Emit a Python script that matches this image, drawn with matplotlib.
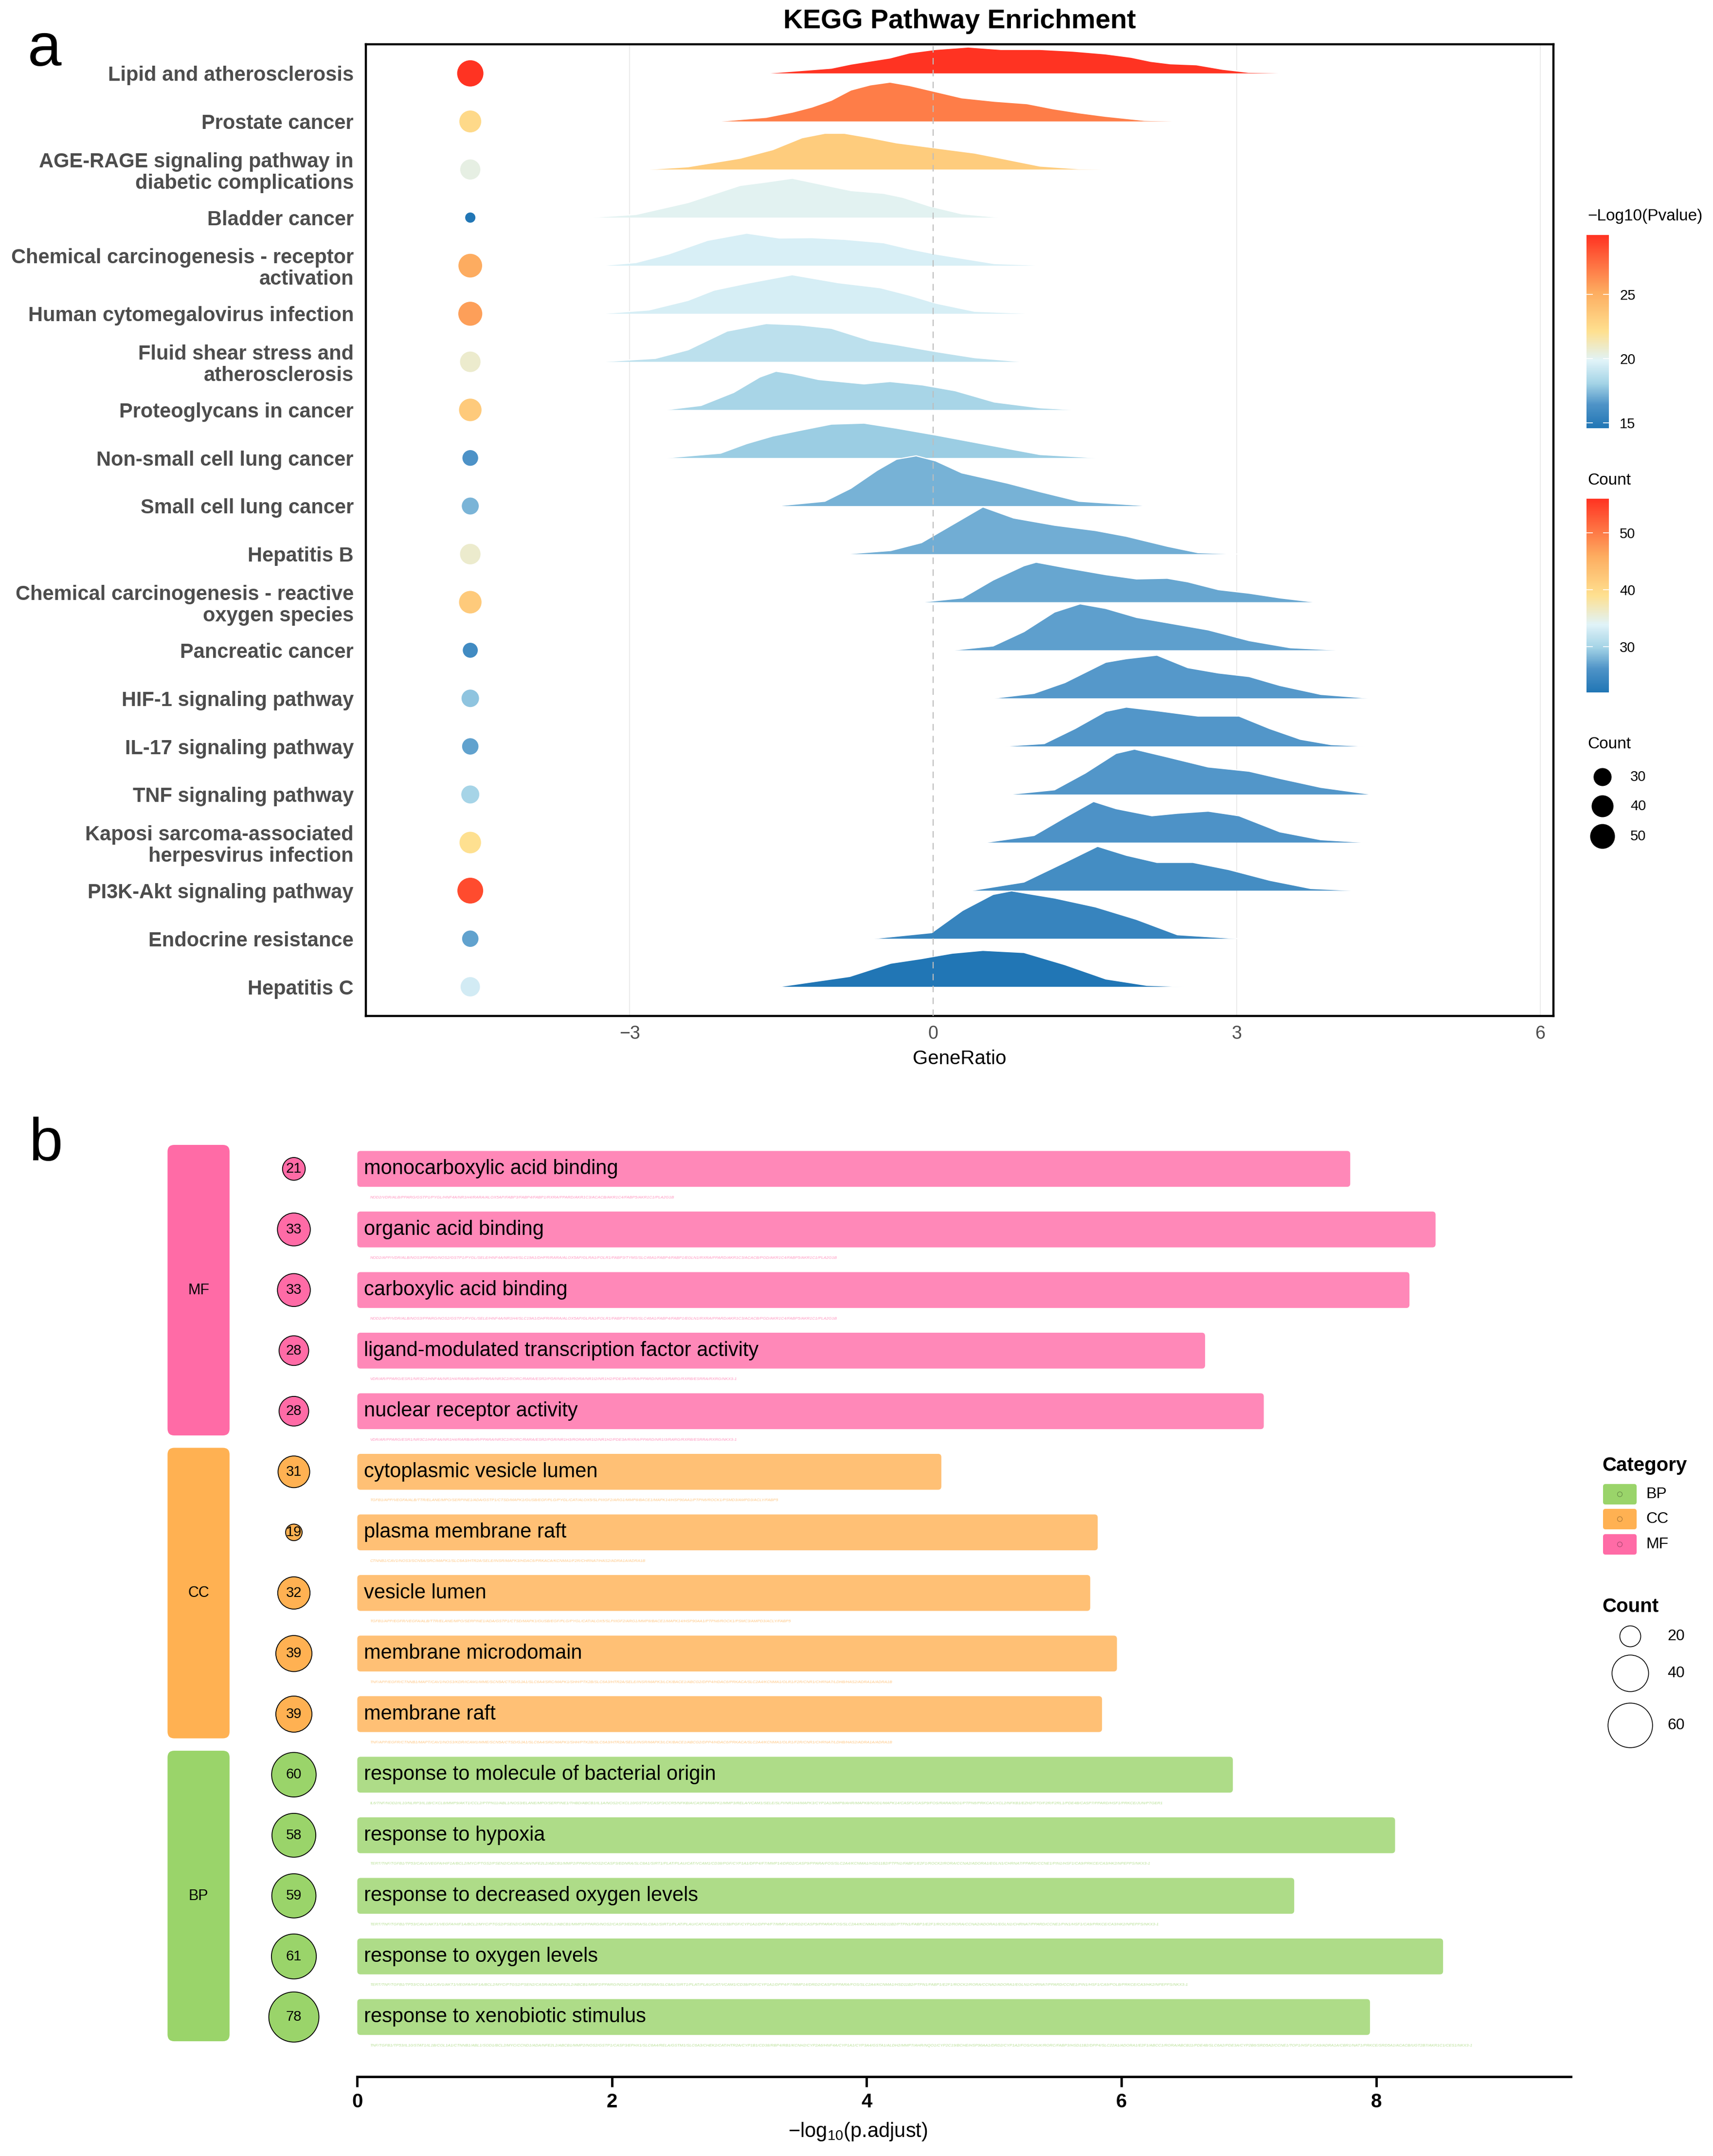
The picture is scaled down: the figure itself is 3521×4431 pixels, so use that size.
import numpy as np
import matplotlib
matplotlib.use("Agg")
import matplotlib.pyplot as plt
from matplotlib.colors import LinearSegmentedColormap, Normalize, to_rgba
from matplotlib.patches import FancyBboxPatch
from matplotlib.cm import ScalarMappable

plt.rcParams['font.family'] = ['Liberation Sans', 'DejaVu Sans']
plt.rcParams['axes.unicode_minus'] = True

# ---------------- panel a data ----------------
kegg_pathways = [
    "Lipid and atherosclerosis", "Prostate cancer",
    "AGE-RAGE signaling pathway in\ndiabetic complications", "Bladder cancer",
    "Chemical carcinogenesis - receptor\nactivation", "Human cytomegalovirus infection",
    "Fluid shear stress and\natherosclerosis", "Proteoglycans in cancer",
    "Non-small cell lung cancer", "Small cell lung cancer", "Hepatitis B",
    "Chemical carcinogenesis - reactive\noxygen species", "Pancreatic cancer",
    "HIF-1 signaling pathway", "IL-17 signaling pathway", "TNF signaling pathway",
    "Kaposi sarcoma-associated\nherpesvirus infection", "PI3K-Akt signaling pathway",
    "Endocrine resistance", "Hepatitis C",
]
kegg_neglog10_p = [29.6, 26.9, 23.3, 20.0, 19.6, 19.55, 18.8, 18.2, 17.93, 17.2,
                   17.07, 16.9, 16.73, 16.58, 16.52, 16.5, 16.4, 16.04, 15.5, 14.6]
kegg_count = [56, 40, 35, 22, 46, 47, 36, 42, 26, 28,
              36, 42, 25, 29, 27, 30, 39, 54, 27, 33]

# ridge outlines: x (GeneRatio) and height (in row units)
ridge_x = [
    [-1.662, -1.005, -0.812, -0.426, -0.233, 0.025, 0.347, 0.669, 1.055, 1.377, 1.699, 1.957, 2.150, 2.343, 2.601, 2.858, 3.116, 3.631],
    [-2.132, -1.649, -1.392, -1.198, -1.005, -0.812, -0.619, -0.426, -0.233, 0.025, 0.283, 0.605, 0.927, 1.184, 1.442, 1.699, 2.086, 2.504],
    [-2.840, -2.422, -1.907, -1.585, -1.295, -1.070, -0.876, -0.619, -0.361, 0.025, 0.411, 0.669, 1.055, 1.442, 1.796],
    [-3.400, -2.937, -2.422, -1.907, -1.649, -1.392, -1.134, -0.812, -0.490, -0.297, -0.039, 0.283, 0.669],
    [-3.291, -2.937, -2.615, -2.229, -1.842, -1.520, -1.198, -0.876, -0.490, -0.233, 0.025, 0.605, 1.152],
    [-3.291, -2.808, -2.422, -2.164, -1.842, -1.392, -0.941, -0.522, -0.233, 0.025, 0.411, 1.023],
    [-3.291, -2.744, -2.422, -2.035, -1.649, -1.327, -1.005, -0.812, -0.619, -0.361, 0.025, 0.411, 0.894],
    [-2.647, -2.293, -1.971, -1.713, -1.553, -1.392, -1.134, -0.683, -0.426, -0.104, 0.218, 0.605, 1.055, 1.409],
    [-2.647, -2.100, -1.842, -1.585, -1.327, -1.005, -0.683, -0.361, 0.025, 0.476, 1.055, 1.635],
    [-1.553, -1.070, -0.812, -0.555, -0.361, -0.168, 0.025, 0.283, 0.733, 1.055, 1.442, 2.150],
    [-0.874, -0.418, -0.115, 0.189, 0.492, 0.796, 1.200, 1.605, 1.909, 2.314, 2.617, 3.022],
    [-0.115, 0.290, 0.593, 0.897, 1.018, 1.302, 1.706, 2.010, 2.313, 2.516, 2.819, 3.123, 3.426, 3.780],
    [0.189, 0.593, 0.897, 1.200, 1.453, 1.706, 2.010, 2.313, 2.718, 3.123, 3.528, 4.033],
    [0.593, 0.998, 1.302, 1.706, 1.909, 2.212, 2.516, 2.819, 3.123, 3.426, 3.831, 4.317],
    [0.674, 1.099, 1.403, 1.706, 1.909, 2.212, 2.617, 3.022, 3.325, 3.629, 3.932, 4.317],
    [0.745, 1.200, 1.504, 1.808, 1.990, 2.314, 2.718, 3.123, 3.426, 3.831, 4.337],
    [0.512, 0.998, 1.302, 1.585, 1.807, 2.162, 2.414, 2.718, 3.022, 3.426, 3.831, 4.286],
    [0.371, 0.897, 1.302, 1.625, 1.909, 2.212, 2.566, 2.921, 3.325, 3.730, 4.185],
    [-0.601, -0.014, 0.290, 0.593, 0.775, 1.200, 1.605, 2.010, 2.414, 3.022],
    [-1.531, -0.823, -0.418, -0.115, 0.189, 0.492, 0.897, 1.302, 1.706, 2.111, 2.516],
]
ridge_h = [
    [0, 0.107, 0.192, 0.320, 0.426, 0.497, 0.547, 0.497, 0.497, 0.462, 0.405, 0.334, 0.249, 0.199, 0.178, 0.085, 0.021, 0],
    [0, 0.085, 0.192, 0.298, 0.440, 0.653, 0.760, 0.817, 0.746, 0.618, 0.490, 0.419, 0.369, 0.263, 0.178, 0.107, 0.021, 0],
    [0, 0.057, 0.234, 0.412, 0.660, 0.753, 0.753, 0.660, 0.554, 0.447, 0.341, 0.234, 0.071, 0.014, 0],
    [0, 0.064, 0.312, 0.668, 0.739, 0.817, 0.703, 0.561, 0.504, 0.419, 0.241, 0.078, 0],
    [0, 0.064, 0.241, 0.526, 0.675, 0.575, 0.582, 0.547, 0.476, 0.348, 0.241, 0.043, 0],
    [0, 0.078, 0.277, 0.490, 0.632, 0.810, 0.646, 0.540, 0.384, 0.220, 0.050, 0],
    [0, 0.071, 0.249, 0.639, 0.795, 0.767, 0.696, 0.568, 0.440, 0.355, 0.213, 0.085, 0],
    [0, 0.092, 0.362, 0.682, 0.803, 0.753, 0.632, 0.540, 0.589, 0.518, 0.398, 0.163, 0.043, 0],
    [0, 0.099, 0.298, 0.455, 0.568, 0.703, 0.724, 0.618, 0.476, 0.298, 0.071, 0],
    [0, 0.099, 0.369, 0.739, 0.973, 1.044, 0.938, 0.689, 0.476, 0.298, 0.099, 0],
    [0, 0.074, 0.238, 0.609, 0.980, 0.750, 0.600, 0.490, 0.370, 0.163, 0.030, 0],
    [0, 0.089, 0.460, 0.757, 0.831, 0.720, 0.572, 0.483, 0.497, 0.423, 0.260, 0.186, 0.089, 0],
    [0, 0.089, 0.386, 0.794, 0.965, 0.869, 0.683, 0.572, 0.423, 0.200, 0.052, 0],
    [0, 0.104, 0.327, 0.750, 0.824, 0.898, 0.638, 0.527, 0.453, 0.267, 0.082, 0],
    [0, 0.059, 0.371, 0.728, 0.817, 0.742, 0.631, 0.631, 0.371, 0.148, 0.037, 0],
    [0, 0.097, 0.445, 0.854, 0.943, 0.780, 0.572, 0.483, 0.334, 0.148, 0],
    [0, 0.148, 0.520, 0.854, 0.705, 0.557, 0.609, 0.653, 0.557, 0.223, 0.059, 0],
    [0, 0.178, 0.587, 0.921, 0.735, 0.587, 0.587, 0.438, 0.215, 0.045, 0],
    [0, 0.126, 0.586, 0.921, 0.995, 0.846, 0.661, 0.401, 0.082, 0],
    [0, 0.215, 0.490, 0.586, 0.698, 0.757, 0.713, 0.460, 0.163, 0.030, 0],
]
kegg_xticks = [-3, 0, 3, 6]
pval_ticks = [15, 20, 25]
count_ticks = [30, 40, 50]

# ---------------- panel b data ----------------
go_terms = [
    "monocarboxylic acid binding", "organic acid binding", "carboxylic acid binding",
    "ligand-modulated transcription factor activity", "nuclear receptor activity",
    "cytoplasmic vesicle lumen", "plasma membrane raft", "vesicle lumen",
    "membrane microdomain", "membrane raft",
    "response to molecule of bacterial origin", "response to hypoxia",
    "response to decreased oxygen levels", "response to oxygen levels",
    "response to xenobiotic stimulus",
]
go_category = ["MF"] * 5 + ["CC"] * 5 + ["BP"] * 5
go_neglog10_padj = [7.797, 8.467, 8.262, 6.657, 7.118,
                    4.586, 5.814, 5.755, 5.965, 5.848,
                    6.875, 8.149, 7.357, 8.526, 7.952]
go_count = [21, 33, 33, 28, 28, 31, 19, 32, 39, 39, 60, 58, 59, 61, 78]
_mf_org = "NOD2/APP/VDR/ALB/NOS3/PPARG/NOS2/GSTP1/PYGL/SELE/HNF4A/NR1H4/SLC19A1/DHFR/RARA/ALOX5AP/GLRA1/FOLR1/FABP3/TYMS/SLC46A1/FABP4/FABP1/EGLN1/RXRA/PPARD/AKR1C3/ACACB/PGD/AKR1C4/FABP5/AKR1C1/PLA2G1B"
_mf_nr = "VDR/AR/PPARG/ESR1/NR3C1/HNF4A/NR1H4/RARB/AHR/PPARA/NR3C2/RORC/RARA/ESR2/PGR/NR1H3/RORA/NR1I2/NR1H2/PDE3A/RXRA/PPARD/NR1I3/RARG/RXRB/ESRRA/RXRG/NKX3-1"
_cc_raft = "TNF/APP/EGFR/CTNNB1/MAPT/CAV1/NOS3/KDR/ICAM1/MME/SCN5A/CTSD/GJA1/SLC6A4/SRC/MAPK1/SHH/PTK2B/SLC6A3/HTR2A/SELE/INSR/MAPK3/LCK/BACE1/ABCG2/DPP4/HDAC6/PRKACA/SLC2A4/KCNMA1/OLR1/F2R/CNR1/CHRNA7/LDHB/HAS2/ADRA1A/ADRA1B"
go_genes = [
    "NOD2/VDR/ALB/PPARG/GSTP1/PYGL/HNF4A/NR1H4/RARA/ALOX5AP/FABP3/FABP4/FABP1/RXRA/PPARD/AKR1C3/ACACB/AKR1C4/FABP5/AKR1C1/PLA2G1B",
    _mf_org, _mf_org, _mf_nr, _mf_nr,
    "TGFB1/APP/VEGFA/ALB/TTR/ELANE/MPO/SERPINE1/ADA/GSTP1/CTSD/MAPK1/GUSB/EGF/PLG/PYGL/CAT/ALOX5/SLPI/IGF2/ARG1/MMP8/BACE1/MAPK14/HSP90AA1/PTPN6/ROCK1/PSMD3/AMPD3/ACLY/FABP5",
    "CTNNB1/CAV1/NOS3/SCN5A/SRC/MAPK1/SLC6A3/HTR2A/SELE/INSR/MAPK3/HDAC6/PRKACA/KCNMA1/F2R/CHRNA7/HAS2/ADRA1A/ADRA1B",
    "TGFB1/APP/EGFR/VEGFA/ALB/TTR/ELANE/MPO/SERPINE1/ADA/GSTP1/CTSD/MAPK1/GUSB/EGF/PLG/PYGL/CAT/ALOX5/SLPI/IGF2/ARG1/MMP8/BACE1/MAPK14/HSP90AA1/PTPN6/ROCK1/PSMC3/AMPD3/ACLY/FABP5",
    _cc_raft, _cc_raft,
    "IL6/TNF/NOD2/IL10/NLRP3/IL1B/CXCL8/MMP9/AKT1/CCL2/PTPN11/ABL1/NOS3/ELANE/MPO/SERPINE1/THBD/ABCB1/IL1A/NOS2/CXCL10/GSTP1/CASP3/CCR5/NFKBIA/CASP8/MAPK1/MMP3/RELA/VCAM1/SELE/SLPI/NR1H4/MAPK3/CYP1A1/MMP8/AHR/MAPK8/NOD1/MAPK14/CASP1/CASP9/FOS/RARA/IDO1/PTPN6/PRKCA/CXCL2/NFKB1/EZH2/FTO/F2R/F2RL1/PDE4B/CASP7/PPARD/HSF1/PRKCE/JUN/PTGER1",
    "TERT/TNF/TGFB1/TP53/CAV1/VEGFA/HIF1A/BCL2/MYC/PTGS2/PSEN2/CASR/ACAN/NFE2L2/ABCB1/MMP2/PPARG/NOS2/CASP3/EDNRA/SLC8A1/SIRT1/PLAT/PLAU/CAT/VCAM1/CD38/PGF/CYP1A1/DPP4/F7/MMP14/DRD2/CASP9/PPARA/FOS/SLC2A4/KCNMA1/HSD11B2/PTPN1/FABP1/E2F1/ROCK2/RORA/CCNA2/ADORA1/EGLN1/CHRNA7/PPARD/CCNE1/PIN1/HSF1/CA9/PRKCE/CA3/HK2/NPEPPS/NKX3-1",
    "TERT/TNF/TGFB1/TP53/CAV1/AKT1/VEGFA/HIF1A/BCL2/MYC/PTGS2/PSEN2/CASR/ADA/NFE2L2/ABCB1/MMP2/PPARG/NOS2/CASP3/EDNRA/SLC8A1/SIRT1/PLAT/PLAU/CAT/VCAM1/CD38/PGF/CYP1A1/DPP4/F7/MMP14/DRD2/CASP9/PPARA/FOS/SLC2A4/KCNMA1/HSD11B2/PTPN1/FABP1/E2F1/ROCK2/RORA/CCNA2/ADORA1/EGLN1/CHRNA7/PPARD/CCNE1/PIN1/HSF1/CA9/PRKCE/CA3/HK2/NPEPPS/NKX3-1",
    "TERT/TNF/TGFB1/TP53/COL1A1/CAV1/AKT1/VEGFA/HIF1A/BCL2/MYC/PTGS2/PSEN2/CASR/ADA/NFE2L2/ABCB1/MMP2/PPARG/NOS2/CASP3/EDNRA/SLC8A1/SIRT1/PLAT/PLAU/CAT/VCAM1/CD38/PGF/CYP1A1/DPP4/F7/MMP14/DRD2/CASP9/PPARA/FOS/SLC2A4/KCNMA1/HSD11B2/PTPN1/FABP1/E2F1/ROCK2/RORA/CCNA2/ADORA1/EGLN1/CHRNA7/PPARD/CCNE1/PIN1/HSF1/CA9/POLB/PRKCE/CA3/HK2/NPEPPS/NKX3-1",
    "TNF/TGFB1/TP53/IL10/STAT1/IL1B/COL1A1/CTNNB1/ABL1/SOD1/BCL2/MYC/CCND1/ADA/NFE2L2/ABCB1/MMP2/NOS2/GSTP1/CASP3/EPHX1/SLC6A4/RELA/GSTM1/SLC6A3/CHEK2/CAT/HTR2A/CYP1B1/CD38/RBP4/RB1/KCNH2/CYP2A6/HNF4A/CYP1A1/CYP3A4/GSTA1/ALDH2/MMP7/AHR/NQO1/CYP2C19/BCHE/HSP90AA1/DRD2/CYP1A2/FOS/CHUK/RORC/FABP3/HSD11B2/DPP4/SLC22A1/ADORA1/E2F1/ABCC1/RORA/ABCB11/PDE4B/SLC6A2/PDE3A/CYP2B6/SRD5A2/CCNE1/TOP1/HSF1/CA9/ADRA1A/CBR1/NAT1/PRKCE/SRD5A1/ACACB/UGT2B7/AKR1C1/CES1/NKX3-1",
]
go_xticks = [0, 2, 4, 6, 8]
cat_order_legend = ["BP", "CC", "MF"]
legend_counts_b = [20, 40, 60]

# ---------------- figure ----------------
W, H = 3521, 4431
fig = plt.figure(figsize=(W / 100, H / 100), dpi=100)


def rect(l, t, r, b):
    return [l / W, 1 - b / H, (r - l) / W, (b - t) / H]


def pt(px):
    return px * 72.0 / 100.0


cmap = LinearSegmentedColormap.from_list(
    "ridge", [(0, "#2176B5"), (0.12, "#4E93C7"), (0.23, "#A3D3E6"), (0.35, "#E0F3F8"),
              (0.5, "#FEE090"), (0.7, "#FDAE61"), (1.0, "#FF3322")])
pnorm = Normalize(min(kegg_neglog10_p), max(kegg_neglog10_p))
cnorm = Normalize(min(kegg_count), max(kegg_count))
cmin_a, cmax_a = min(kegg_count), max(kegg_count)


def size_a(c):
    c = np.asarray(c, dtype=float)
    d = 21 + 33 * np.sqrt((c - cmin_a) / (cmax_a - cmin_a))
    return pt(d) ** 2


# ---- panel a ----
axA = fig.add_axes(rect(752, 91, 3193, 2088))
n = len(kegg_pathways)
rows = np.arange(n, 0, -1)
axA.set_xlim(-5.606, 6.13)
axA.set_ylim(0.393, 20.605)
for gx in [-3, 3, 6]:
    axA.axvline(gx, color="#EBEBEB", lw=1.5, zorder=0)
for i in range(n):
    xs = np.asarray(ridge_x[i])
    hs = np.asarray(ridge_h[i])
    z = 2 + i * 0.02
    axA.fill_between(xs, rows[i], rows[i] + hs, facecolor=cmap(pnorm(kegg_neglog10_p[i])),
                     edgecolor="none", lw=0, zorder=z)
    axA.plot(xs, rows[i] + hs, color="white", lw=1.6, zorder=z + 0.01, solid_capstyle="round",
             solid_joinstyle="round")
axA.axvline(0, color="#BDBDBD", lw=1.6, ls=(0, (6, 5)), zorder=5)
axA.scatter(np.full(n, -4.574), rows, s=size_a(kegg_count), c=kegg_count, cmap=cmap,
            norm=cnorm, edgecolors="none", zorder=6)
axA.set_yticks(rows)
axA.set_yticklabels(kegg_pathways, fontsize=30, fontweight="bold", color="#4D4D4D",
                    linespacing=1.12)
axA.set_xticks(kegg_xticks)
axA.tick_params(axis="y", length=0, pad=18)
axA.tick_params(axis="x", length=0, pad=14, labelsize=27, labelcolor="#4D4D4D")
axA.set_xlabel("GeneRatio", fontsize=29, labelpad=10)
for s in axA.spines.values():
    s.set_linewidth(3.2)
    s.set_color("black")

fig.text(1972 / W, 1 - 44 / H, "KEGG Pathway Enrichment", fontsize=40, fontweight="bold",
         ha="center", va="center")

# legends for panel a
fig.text(3263 / W, 1 - 444 / H, "\u2212Log10(Pvalue)", fontsize=24, ha="left", va="center")
cax1 = fig.add_axes(rect(3261, 483, 3307, 880))
cb1 = fig.colorbar(ScalarMappable(norm=pnorm, cmap=cmap), cax=cax1, ticks=pval_ticks)
fig.text(3263 / W, 1 - 987 / H, "Count", fontsize=24, ha="left", va="center")
cax2 = fig.add_axes(rect(3261, 1025, 3307, 1423))
cb2 = fig.colorbar(ScalarMappable(norm=cnorm, cmap=cmap), cax=cax2, ticks=count_ticks)
for cb in (cb1, cb2):
    cb.outline.set_visible(False)
    cb.ax.tick_params(axis="y", direction="in", left=True, right=True, length=9, width=1.2,
                      color="white", labelcolor="black", labelsize=21, pad=16)

ov = fig.add_axes([0, 0, 1, 1], zorder=10)
ov.set_xlim(0, W)
ov.set_ylim(H, 0)
ov.axis("off")

ov.text(3263, 1529, "Count", fontsize=24, ha="left", va="center")
leg_y_a = [1597, 1657, 1719]
ov.scatter([3294] * 3, leg_y_a, s=size_a(count_ticks), color="black", edgecolors="none")
for y, c in zip(leg_y_a, count_ticks):
    ov.text(3351, y, str(c), fontsize=21, ha="left", va="center")

ov.text(57, 135, "a", fontsize=90, ha="left", va="baseline")
ov.text(60, 2385, "b", fontsize=90, ha="left", va="baseline")

# ---- panel b ----
cat_colors = {"MF": "#FF6BA6", "CC": "#FFB152", "BP": "#9AD46A"}
cmin_b, cmax_b = min(go_count), max(go_count)


def size_b(c):
    c = np.asarray(c, dtype=float)
    d = 34 + 69 * np.sqrt((c - cmin_b) / (cmax_b - cmin_b))
    return pt(d) ** 2


axB = fig.add_axes(rect(297, 2327.6, 3229, 4268))
m = len(go_terms)
ks = np.arange(m)
axB.set_xlim(-1.671, 9.53)
axB.set_ylim(m - 1 + 0.985, -0.6)
px_per_x = 261.8
px_per_y = 124.5
ma = px_per_x / px_per_y
bar_h = 0.592
for k in ks:
    col = cat_colors[go_category[k]]
    axB.add_patch(FancyBboxPatch((0, k - bar_h / 2), go_neglog10_padj[k], bar_h,
                                 boxstyle="round,pad=0,rounding_size=0.025", mutation_aspect=ma,
                                 facecolor=to_rgba(col, 0.8), edgecolor="none", zorder=2))
    axB.text(0.053, k, go_terms[k], fontsize=30, ha="left", va="center", color="black", zorder=3)
    axB.text(0.1, k + 0.475, go_genes[k], fontsize=6.1, style="italic", ha="left", va="center",
             color=to_rgba(col, 0.7), zorder=3)
    axB.text(-0.498, k, str(go_count[k]), fontsize=21, ha="center", va="center", zorder=5)

axB.scatter(np.full(m, -0.498), ks, s=size_b(go_count),
            c=[cat_colors[c] for c in go_category], edgecolors="black", linewidths=1.3, zorder=4)

# category strips
seen = []
for c in go_category:
    if c not in seen:
        seen.append(c)
for c in seen:
    idx = [k for k in ks if go_category[k] == c]
    y0, y1 = min(idx) - 0.396, max(idx) + 0.40
    axB.add_patch(FancyBboxPatch((-1.49, y0), 0.487, y1 - y0,
                                 boxstyle="round,pad=0,rounding_size=0.053", mutation_aspect=ma,
                                 facecolor=cat_colors[c], edgecolor="none", zorder=2))
    axB.text(-1.2465, (y0 + y1) / 2, c, fontsize=22, ha="center", va="center", zorder=3)

for side in ["left", "right", "top"]:
    axB.spines[side].set_visible(False)
axB.spines["bottom"].set_linewidth(3.5)
axB.spines["bottom"].set_bounds(0, 9.53)
axB.set_yticks([])
axB.set_xticks(go_xticks)
axB.tick_params(axis="x", length=15, width=3.5, pad=9, labelsize=29)
for lab in axB.get_xticklabels():
    lab.set_fontweight("bold")
axB.set_xlabel(r"$\mathregular{-log_{10}}$(p.adjust)", fontsize=30, labelpad=14)

# legends for panel b
ov.text(3293, 3012, "Category", fontsize=29, fontweight="bold", ha="left", va="center")
key_y = [3071, 3122, 3174]
for y, c in zip(key_y, cat_order_legend):
    ov.add_patch(FancyBboxPatch((3295, y - 21), 69, 42, boxstyle="round,pad=0,rounding_size=5",
                                facecolor=cat_colors[c], edgecolor="none"))
    ov.scatter([3329.5], [y], s=pt(10) ** 2, facecolors="none",
               edgecolors=to_rgba("black", 0.35), linewidths=0.8)
    ov.text(3383, y, c, fontsize=23, ha="left", va="center")

ov.text(3293, 3302, "Count", fontsize=29, fontweight="bold", ha="left", va="center")
leg_y_b = [3363, 3439, 3546]
ov.scatter([3351] * 3, leg_y_b, s=size_b(legend_counts_b), facecolors="white",
           edgecolors="black", linewidths=1.2)
for y, c in zip(leg_y_b, legend_counts_b):
    ov.text(3427, y, str(c), fontsize=23, ha="left", va="center")

fig.savefig("out.png", dpi=100)
